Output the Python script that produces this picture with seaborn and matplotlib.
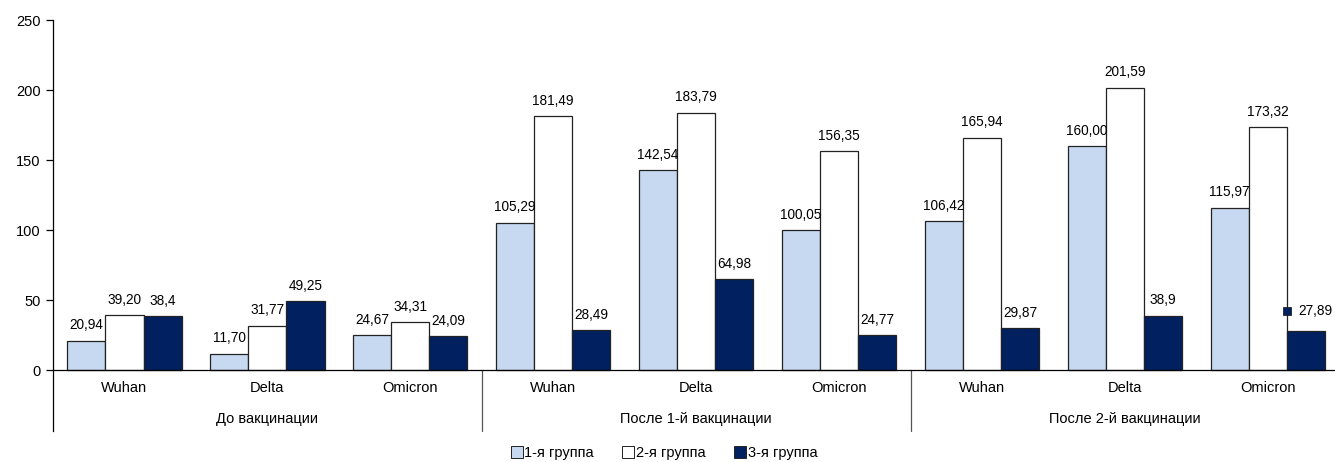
import matplotlib
matplotlib.use("Agg")
import matplotlib.pyplot as plt
from matplotlib.lines import Line2D
import seaborn as sns
import pandas as pd

# ---- data ----
periods = ["До вакцинации", "После 1-й вакцинации", "После 2-й вакцинации"]
variants = ["Wuhan", "Delta", "Omicron"]
groups = ["1-я группа", "2-я группа", "3-я группа"]

group1 = [20.94, 11.70, 24.67, 105.29, 142.54, 100.05, 106.42, 160.00, 115.97]
group2 = [39.20, 31.77, 34.31, 181.49, 183.79, 156.35, 165.94, 201.59, 173.32]
group3 = [38.4, 49.25, 24.09, 28.49, 64.98, 24.77, 29.87, 38.9, 27.89]

labels1 = ["20,94", "11,70", "24,67", "105,29", "142,54", "100,05", "106,42", "160,00", "115,97"]
labels2 = ["39,20", "31,77", "34,31", "181,49", "183,79", "156,35", "165,94", "201,59", "173,32"]
labels3 = ["38,4", "49,25", "24,09", "28,49", "64,98", "24,77", "29,87", "38,9", "27,89"]

yticks = [0, 50, 100, 150, 200, 250]

colors = ["#C6D9F1", "#FFFFFF", "#002060"]

# ---- table ----
slots = [f"{p}|{v}" for p in periods for v in variants]
rows = []
for g, vals in zip(groups, [group1, group2, group3]):
    for s, v in zip(slots, vals):
        rows.append({"slot": s, "group": g, "value": v})
df = pd.DataFrame(rows)

sns.set_style("white")
plt.rcParams["font.family"] = ["Liberation Sans", "DejaVu Sans"]
plt.rcParams["text.color"] = "black"
plt.rcParams["ytick.color"] = "black"

fig = plt.figure(figsize=(13.35, 4.62), dpi=100)
W, H = 1335, 462
ax_left, ax_right = 53, 1335
ax_top, ax_bottom = 20, 431
ax = fig.add_axes([ax_left / W, 1 - ax_bottom / H, (ax_right - ax_left) / W, (ax_bottom - ax_top) / H])

sns.barplot(data=df, x="slot", y="value", hue="group", order=slots, hue_order=groups,
            palette=colors, edgecolor="#222222", linewidth=0.9, width=0.8,
            saturation=1, legend=False, ax=ax)

ymin = -(431 - 370) / 1.4
ax.set_ylim(ymin, 250)
ax.set_xlim(-0.5, 8.47)
ax.set_yticks(yticks)
ax.set_yticklabels([str(t) for t in yticks], fontsize=10.5, color="black")
ax.set_xticks([])
ax.set_xlabel("")
ax.set_ylabel("")
for sp in ["top", "right", "bottom"]:
    ax.spines[sp].set_visible(False)
ax.spines["left"].set_color("black")
ax.spines["left"].set_linewidth(0.9)
ax.tick_params(axis="y", direction="out", length=5, width=0.9, color="black", pad=4, left=True)

# x axis at zero
ax.axhline(0, color="black", linewidth=0.9, zorder=5)
# group separators
for xs in [2.5, 5.5]:
    ax.plot([xs, xs], [0, ymin], color="#555555", linewidth=0.9, clip_on=False)

# category labels
cat_y = -(388 - 370) / 1.4
grp_y = -(419 - 370) / 1.4
for i, s in enumerate(slots):
    ax.text(i, cat_y, s.split("|")[1], ha="center", va="center", fontsize=10.5, color="black")
for j, p in enumerate(periods):
    ax.text(3 * j + 1, grp_y, p, ha="center", va="center", fontsize=10.5, color="black")

# data labels
all_labels = [labels1, labels2, labels3]
for ci, cont in enumerate(ax.containers):
    labs = list(all_labels[ci])
    if ci == 2:
        labs[-1] = ""
    ax.bar_label(cont, labels=labs, padding=6, fontsize=9.8, color="black")

# special last label with marker
last_bar = ax.containers[2][-1]
bx = last_bar.get_x() + last_bar.get_width() / 2
ax.annotate(labels3[-1], xy=(bx, group3[-1]), xytext=(-8, 20), textcoords="offset pixels",
            ha="left", va="center", fontsize=9.8, color="black", annotation_clip=False)
ax.plot(bx - 19 / 142.9, group3[-1] + 20 / 1.4, marker="s", markersize=5.5,
        color=colors[2], markeredgecolor="#222222", markeredgewidth=0.6, clip_on=False)

# legend
handles = [Line2D([0], [0], marker="s", linestyle="none", markersize=8,
                  markerfacecolor=c, markeredgecolor="#222222", markeredgewidth=0.7)
           for c in colors]
fig.legend(handles, groups, loc="center", bbox_to_anchor=(664 / W, 1 - 453 / H), ncol=3,
           frameon=False, fontsize=10.5, handlelength=0.8, handletextpad=0.1, columnspacing=2.0)

fig.savefig("out.png", dpi=100)
